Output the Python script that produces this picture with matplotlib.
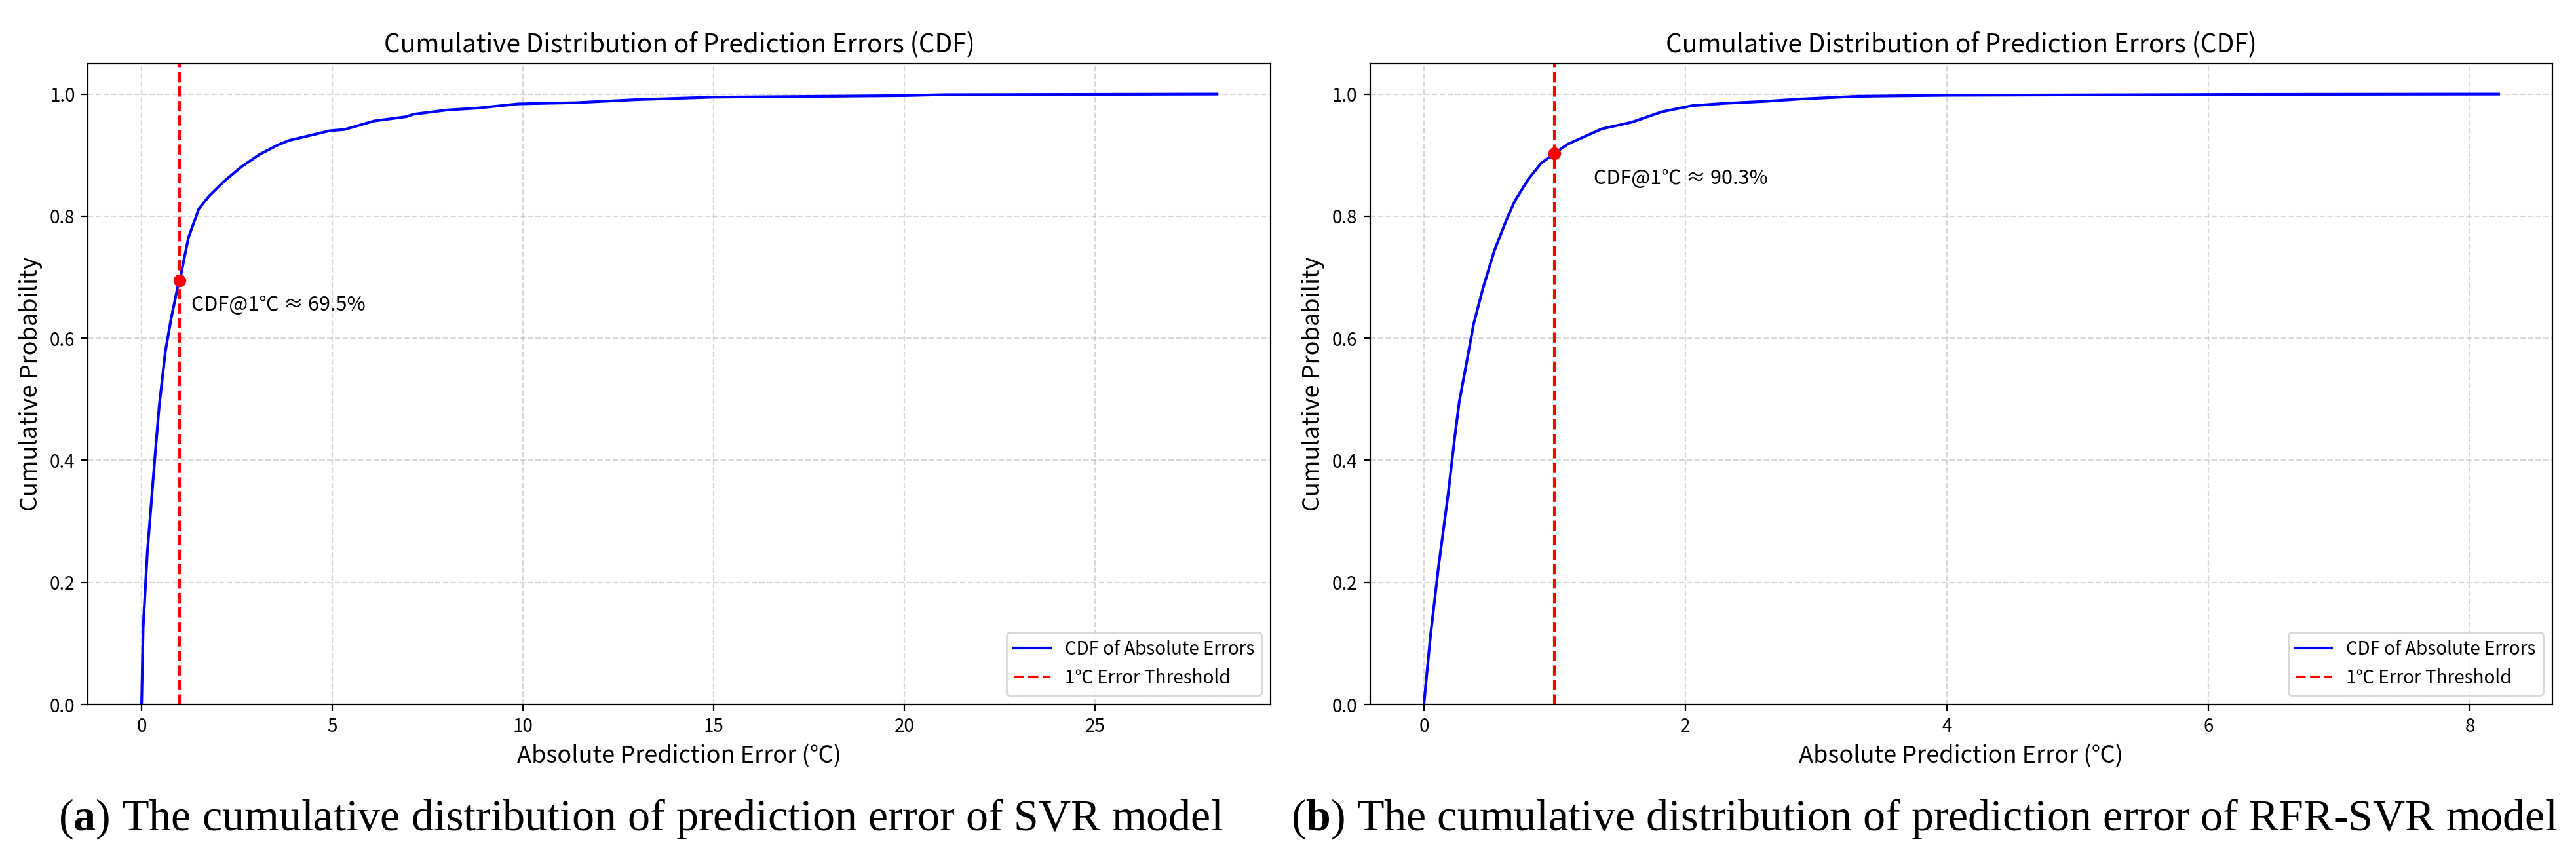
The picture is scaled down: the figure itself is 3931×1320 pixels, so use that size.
import numpy as np
import matplotlib
matplotlib.use("Agg")
import matplotlib.pyplot as plt

plt.rcParams['font.family'] = ['Noto Sans CJK SC', 'DejaVu Sans']
plt.rcParams['mathtext.fontset'] = 'custom'
plt.rcParams['mathtext.rm'] = 'Liberation Serif'
plt.rcParams['mathtext.bf'] = 'Liberation Serif:bold'

# SVR model: absolute error (degC) vs cumulative probability
svr_err = [0.0, 0.04, 0.15, 0.35, 0.46, 0.62, 0.77, 0.96, 1.0, 1.23, 1.50, 1.77,
           2.16, 2.62, 3.09, 3.55, 3.86, 4.40, 4.94, 5.32, 6.10, 6.94, 7.13,
           8.02, 8.80, 9.88, 11.4, 13.0, 15.0, 20.0, 21.0, 28.2]
svr_cdf = [0.0, 0.126, 0.249, 0.406, 0.488, 0.577, 0.631, 0.688, 0.695, 0.765,
           0.812, 0.833, 0.857, 0.881, 0.901, 0.916, 0.924, 0.932, 0.940, 0.942,
           0.956, 0.963, 0.967, 0.974, 0.977, 0.984, 0.986, 0.991, 0.995, 0.9975,
           0.999, 1.0]

# RFR-SVR model
rfr_err = [0.0, 0.049, 0.112, 0.184, 0.236, 0.270, 0.322, 0.380, 0.452, 0.538,
           0.639, 0.696, 0.797, 0.898, 1.0, 1.10, 1.36, 1.59, 1.82, 2.05, 2.31,
           2.60, 2.88, 3.32, 4.0, 6.25, 8.22]
rfr_cdf = [0.0, 0.110, 0.226, 0.342, 0.438, 0.495, 0.555, 0.623, 0.682, 0.743,
           0.798, 0.825, 0.860, 0.887, 0.903, 0.918, 0.943, 0.954, 0.971, 0.981,
           0.985, 0.988, 0.992, 0.9964, 0.998, 0.9995, 1.0]

cdf_at_1 = [0.695, 0.903]
xticks_list = [[0, 5, 10, 15, 20, 25], [0, 2, 4, 6, 8]]
captions = [("a", "SVR"), ("b", "RFR-SVR")]

fig = plt.figure(figsize=(19.655, 6.6), dpi=200)
fig.patch.set_facecolor('white')
ax1 = fig.add_axes([0.0341, 0.1856, 0.4592, 0.7409])
ax2 = fig.add_axes([0.5319, 0.1856, 0.4589, 0.7409])

for ax, xs, ys, c1, xt in zip([ax1, ax2], [svr_err, rfr_err], [svr_cdf, rfr_cdf],
                              cdf_at_1, xticks_list):
    ax.plot(xs, ys, color='b', lw=1.5, label='CDF of Absolute Errors')
    ax.axvline(1, color='r', ls='--', lw=1.5, label='1℃ Error Threshold')
    ax.plot(1, c1, 'ro', ms=6)
    ax.text(1 + 0.3, c1 - 0.05, f'CDF@1℃ ≈ {c1*100:.1f}%', fontsize=11)
    ax.set_ylim(0, 1.05)
    ax.set_xticks(xt)
    ax.set_title('Cumulative Distribution of Prediction Errors (CDF)', fontsize=14)
    ax.set_xlabel('Absolute Prediction Error (℃)', fontsize=13)
    ax.set_ylabel('Cumulative Probability', fontsize=13)
    ax.grid(True, linestyle='--', alpha=0.5)
    ax.legend(loc='lower right', fontsize=10)

cap_x = [977.5 / 3931, 2936 / 3931]
for cx, (letter, model) in zip(cap_x, captions):
    fig.text(cx, 0.0402,
             rf'($\mathbf{{{letter}}}$) The cumulative distribution of prediction error of {model} model',
             ha='center', va='baseline', family='Liberation Serif', fontsize=24.5)

fig.savefig('out.png', dpi=200)
